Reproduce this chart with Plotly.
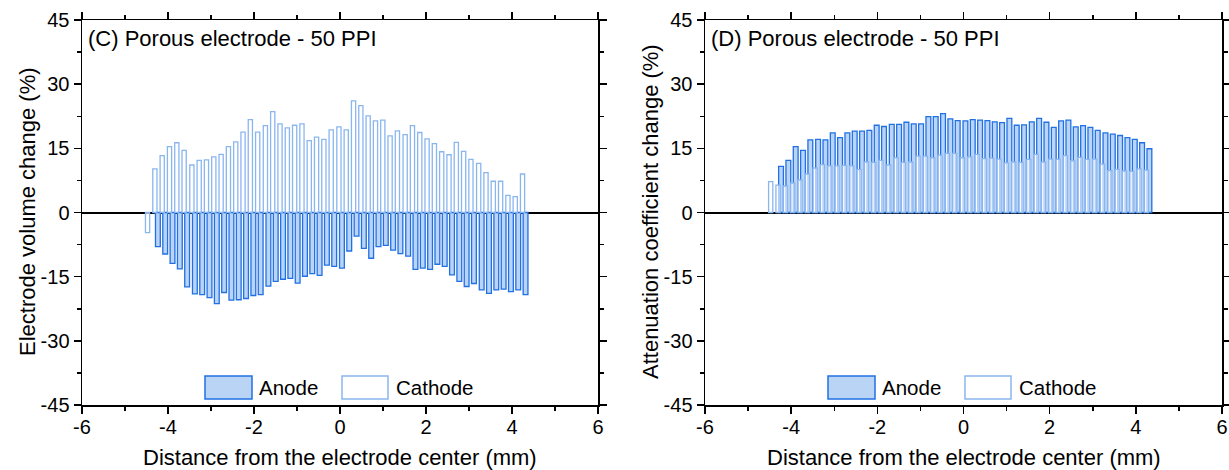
import plotly.graph_objects as go

# ---- data ----
x_pos = [-4.44, -4.27, -4.10, -3.93, -3.76, -3.59, -3.41, -3.24, -3.07, -2.90,
         -2.73, -2.56, -2.39, -2.22, -2.05, -1.88, -1.70, -1.53, -1.36, -1.19,
         -1.02, -0.85, -0.68, -0.51, -0.34, -0.17, 0.01, 0.18, 0.35, 0.52,
         0.69, 0.86, 1.03, 1.20, 1.37, 1.55, 1.72, 1.89, 2.06, 2.23,
         2.40, 2.57, 2.74, 2.91, 3.08, 3.26, 3.43, 3.60, 3.77, 3.94,
         4.11, 4.28]

vol_cathode = [-4.7, 10.2, 13.3, 15.4, 16.3, 14.5, 11.1, 12.2, 12.3, 13.0,
               13.6, 15.4, 16.5, 18.8, 21.7, 18.8, 20.3, 23.6, 20.7, 19.8,
               20.4, 20.7, 16.8, 17.6, 17.1, 19.3, 20.0, 19.3, 26.1, 25.0,
               22.6, 21.4, 21.6, 17.9, 19.1, 18.2, 20.3, 18.7, 17.2, 16.1,
               14.2, 13.5, 16.4, 14.3, 12.4, 11.5, 9.3, 7.3, 7.3, 4.0,
               3.7, 9.0]

vol_anode = [None, -8.0, -9.7, -11.9, -13.2, -17.4, -19.0, -19.2, -19.9, -21.3,
             -18.7, -20.5, -20.4, -20.1, -19.4, -19.2, -17.2, -16.1, -15.6, -15.4,
             -16.5, -14.9, -14.3, -14.7, -12.3, -12.6, -13.0, -9.0, -5.5, -8.4,
             -10.7, -8.0, -7.7, -8.8, -9.6, -10.2, -13.3, -13.0, -13.3, -12.1,
             -12.6, -14.6, -16.1, -17.3, -16.6, -18.1, -18.9, -18.1, -17.9, -18.5,
             -18.1, -19.2]

att_cathode = [7.2, 6.4, 6.2, 6.9, 7.6, 9.0, 10.4, 11.2, 10.9, 10.9,
               11.0, 10.9, 10.1, 11.8, 11.7, 12.2, 11.1, 12.8, 11.7, 11.8,
               13.2, 13.2, 12.8, 13.4, 13.8, 13.8, 12.8, 13.0, 13.6, 12.6,
               12.7, 12.5, 11.6, 11.8, 11.7, 12.4, 13.6, 11.8, 12.5, 12.4,
               13.3, 12.1, 12.9, 12.4, 12.5, 11.3, 9.8, 10.1, 9.7, 9.6,
               10.2, 9.9]

att_anode = [None, 10.8, 12.2, 15.4, 14.5, 17.0, 17.1, 17.0, 18.6, 17.5,
             18.6, 19.0, 19.0, 19.2, 20.4, 20.1, 20.6, 20.6, 21.1, 20.7,
             20.7, 22.4, 22.4, 23.1, 21.9, 21.5, 21.4, 21.7, 21.6, 21.5,
             21.2, 21.0, 22.0, 20.4, 20.5, 21.2, 22.0, 21.1, 19.9, 21.4,
             21.6, 20.0, 20.3, 19.9, 19.2, 18.6, 18.3, 18.0, 17.5, 17.1,
             16.3, 14.9]

x_tickvals = [-6, -4, -2, 0, 2, 4, 6]
x_ticktext = ["-6", "-4", "-2", "0", "2", "4", "6"]
y_tickvals = [-45, -30, -15, 0, 15, 30, 45]
y_ticktext = ["-45", "-30", "-15", "0", "15", "30", "45"]

panel_titles = ["(C) Porous electrode - 50 PPI", "(D) Porous electrode - 50 PPI"]
y_titles = ["Electrode volume change (%)", "Attenuation coefficient change (%)"]
x_title = "Distance from the electrode center (mm)"
series_names = ["Anode", "Cathode"]

# ---- styles ----
W, H = 1229, 470
FONT = "Arial, Liberation Sans, sans-serif"
ANODE_FILL = "#b9d4f5"
ANODE_LINE = "#2170e4"
CATH_FILL = "rgba(255,255,255,0.65)"
CATH_LINE = "#8ab6f0"

WA, OA = 0.112, -0.021   # anode width / offset (mm)
WC, OC = 0.098, -0.084   # cathode width / offset (mm)

fig = go.Figure()

panels = [(vol_anode, vol_cathode, "x", "y"), (att_anode, att_cathode, "x2", "y2")]
for an, ca, xa, ya in panels:
    fig.add_trace(go.Bar(x=x_pos, y=an, name=series_names[0], xaxis=xa, yaxis=ya,
                         width=WA, offset=OA,
                         marker=dict(color=ANODE_FILL, line=dict(color=ANODE_LINE, width=1.3)),
                         showlegend=False))
    fig.add_trace(go.Bar(x=x_pos, y=ca, name=series_names[1], xaxis=xa, yaxis=ya,
                         width=WC, offset=OC,
                         marker=dict(color=CATH_FILL, line=dict(color=CATH_LINE, width=1.3)),
                         showlegend=False))

# page-pixel layout of the reference
plot_left = [82, 705]
plot_right = [598, 1222]
plot_top, plot_bot = 20, 405

def px_x(p):
    return p / W

def px_y(p):
    return 1 - p / H

common_x = dict(range=[-6, 6], showline=True, linecolor="black", linewidth=1.5,
                mirror="ticks", ticks="outside", ticklen=7, tickwidth=1.5, tickcolor="black",
                tickvals=x_tickvals, ticktext=x_ticktext, showgrid=False, zeroline=False,
                tickfont=dict(family=FONT, size=20, color="black"),
                ticklabelstandoff=-4,
                minor=dict(dtick=1, tick0=0, ticks="outside", ticklen=4, tickwidth=1.5,
                           tickcolor="black", showgrid=False),
                automargin=False, fixedrange=True)
common_y = dict(range=[-45, 45], showline=True, linecolor="black", linewidth=1.5,
                mirror="ticks", ticks="outside", ticklen=7, tickwidth=1.5, tickcolor="black",
                tickvals=y_tickvals, ticktext=y_ticktext, showgrid=False,
                zeroline=True, zerolinecolor="black", zerolinewidth=2,
                tickfont=dict(family=FONT, size=20, color="black"),
                minor=dict(dtick=7.5, tick0=0, ticks="outside", ticklen=4, tickwidth=1.5,
                           tickcolor="black", showgrid=False),
                layer="above traces", automargin=False, fixedrange=True)

dom_y = [px_y(plot_bot), px_y(plot_top)]
fig.update_layout(
    xaxis=dict(common_x, domain=[px_x(plot_left[0]), px_x(plot_right[0])], anchor="y"),
    yaxis=dict(common_y, domain=dom_y, anchor="x"),
    xaxis2=dict(common_x, domain=[px_x(plot_left[1]), px_x(plot_right[1])], anchor="y2"),
    yaxis2=dict(common_y, domain=dom_y, anchor="x2"),
    barmode="overlay",
    width=W, height=H,
    margin=dict(l=0, r=0, t=0, b=0),
    paper_bgcolor="white", plot_bgcolor="white",
    showlegend=False,
    font=dict(family=FONT, color="black"),
)

annotations = []
shapes = []
for i in range(2):
    L, R = plot_left[i], plot_right[i]
    # panel title
    annotations.append(dict(x=px_x(L + 4), y=px_y(39), xref="paper", yref="paper",
                            text=panel_titles[i], showarrow=False, xanchor="left", yanchor="middle",
                            font=dict(family=FONT, size=22, color="black")))
    # x title
    annotations.append(dict(x=px_x((L + R) / 2), y=px_y(457), xref="paper", yref="paper",
                            text=x_title, showarrow=False, xanchor="center", yanchor="middle",
                            font=dict(family=FONT, size=22, color="black")))
    # y title
    annotations.append(dict(x=px_x(L - 55), y=px_y(212), xref="paper", yref="paper",
                            text=y_titles[i], showarrow=False, xanchor="center", yanchor="middle",
                            textangle=-90, font=dict(family=FONT, size=22, color="black")))
    # manual legend
    off = L - 82
    shapes.append(dict(type="rect", xref="paper", yref="paper",
                       x0=px_x(205 + off), x1=px_x(252 + off), y0=px_y(399), y1=px_y(376),
                       fillcolor=ANODE_FILL, line=dict(color=ANODE_LINE, width=1.5)))
    shapes.append(dict(type="rect", xref="paper", yref="paper",
                       x0=px_x(342 + off), x1=px_x(388 + off), y0=px_y(399), y1=px_y(376),
                       fillcolor="white", line=dict(color=CATH_LINE, width=1.5)))
    annotations.append(dict(x=px_x(257 + off), y=px_y(387.5), xref="paper", yref="paper",
                            text=series_names[0], showarrow=False, xanchor="left", yanchor="middle",
                            font=dict(family=FONT, size=20.5, color="black")))
    annotations.append(dict(x=px_x(394 + off), y=px_y(387.5), xref="paper", yref="paper",
                            text=series_names[1], showarrow=False, xanchor="left", yanchor="middle",
                            font=dict(family=FONT, size=20.5, color="black")))

fig.update_layout(annotations=annotations, shapes=shapes)
fig.write_html("out.html",
               config={"displayModeBar": False, "staticPlot": True},
               post_script="document.body.style.margin='0';document.body.style.overflow='hidden';")
